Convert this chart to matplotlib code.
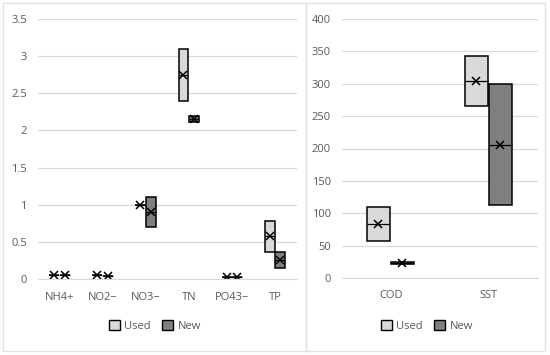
import matplotlib.pyplot as plt
from matplotlib.patches import Patch, Rectangle

plt.rcParams['font.family'] = ['Open Sans', 'DejaVu Sans']

# left panel: nutrients
nut_labels = ["NH4+", "NO2\u2212", "NO3\u2212", "TN", "PO43\u2212", "TP"]
nut_used_q1 = [0.05, 0.06, 1.00, 2.40, 0.03, 0.37]
nut_used_q3 = [0.05, 0.06, 1.00, 3.10, 0.03, 0.78]
nut_used_med = [0.05, 0.06, 1.00, 2.75, 0.03, 0.58]
nut_used_mean = [0.05, 0.06, 1.00, 2.75, 0.03, 0.58]
nut_new_q1 = [0.05, 0.04, 0.70, 2.12, 0.03, 0.15]
nut_new_q3 = [0.05, 0.04, 1.10, 2.19, 0.03, 0.36]
nut_new_med = [0.05, 0.04, 0.90, 2.15, 0.03, 0.25]
nut_new_mean = [0.05, 0.04, 0.90, 2.15, 0.03, 0.25]

# right panel: COD / SST
org_labels = ["COD", "SST"]
org_used_q1 = [57, 266]
org_used_q3 = [110, 343]
org_used_med = [84, 305]
org_used_mean = [84, 305]
org_new_q1 = [21, 113]
org_new_q3 = [25, 299]
org_new_med = [23, 206]
org_new_mean = [23, 206]

USED_C = "#d9d9d9"
NEW_C = "#7f7f7f"
GRID_C = "#d9d9d9"
TEXT_C = "#595959"


def make_stats(q1, q3, med, mean):
    return [
        dict(q1=a, q3=b, med=m, mean=mu, whislo=a, whishi=b, fliers=[])
        for a, b, m, mu in zip(q1, q3, med, mean)
    ]


def draw_boxes(ax, stats, positions, color):
    ax.bxp(
        stats,
        positions=positions,
        widths=0.23,
        patch_artist=True,
        showmeans=True,
        showcaps=False,
        showfliers=False,
        boxprops=dict(facecolor=color, edgecolor="black", linewidth=1.1),
        medianprops=dict(color="black", linewidth=0.9),
        whiskerprops=dict(linewidth=0),
        meanprops=dict(marker="x", markeredgecolor="black", markersize=6, markeredgewidth=1.1),
        manage_ticks=False,
    )


def style_axis(ax, labels, ymax, ystep):
    n = len(labels)
    ax.set_xlim(-0.5, n - 0.5)
    ax.set_ylim(0, ymax)
    ax.set_xticks(range(n))
    ax.set_xticklabels(labels)
    ticks = [i * ystep for i in range(int(round(ymax / ystep)) + 1)]
    ax.set_yticks(ticks)
    ax.set_yticklabels([f"{t:g}" for t in ticks])
    ax.grid(axis="y", color=GRID_C, linewidth=0.9)
    ax.set_axisbelow(True)
    for side in ["left", "right", "top"]:
        ax.spines[side].set_visible(False)
    ax.spines["bottom"].set_color(GRID_C)
    ax.tick_params(axis="both", length=0, colors=TEXT_C, labelsize=8)
    ax.tick_params(axis="x", pad=9)
    ax.tick_params(axis="y", pad=8)


fig = plt.figure(figsize=(5.5, 3.55), dpi=100)

# panel frames
fig.patches.append(Rectangle((3 / 550, 4 / 355), 303 / 550, 348 / 355, transform=fig.transFigure,
                             fill=False, edgecolor="#e2e2e2", linewidth=1.0))
fig.patches.append(Rectangle((306 / 550, 4 / 355), 239 / 550, 348 / 355, transform=fig.transFigure,
                             fill=False, edgecolor="#e2e2e2", linewidth=1.0))

ax1 = fig.add_axes([38 / 550, 1 - 279 / 355, 259 / 550, 260 / 355])
ax2 = fig.add_axes([342 / 550, 1 - 278 / 355, 196 / 550, 259 / 355])

x1 = list(range(len(nut_labels)))
draw_boxes(ax1, make_stats(nut_used_q1, nut_used_q3, nut_used_med, nut_used_mean),
           [x - 0.13 for x in x1], USED_C)
draw_boxes(ax1, make_stats(nut_new_q1, nut_new_q3, nut_new_med, nut_new_mean),
           [x + 0.115 for x in x1], NEW_C)
style_axis(ax1, nut_labels, 3.5, 0.5)

x2 = list(range(len(org_labels)))
draw_boxes(ax2, make_stats(org_used_q1, org_used_q3, org_used_med, org_used_mean),
           [x - 0.13 for x in x2], USED_C)
draw_boxes(ax2, make_stats(org_new_q1, org_new_q3, org_new_med, org_new_mean),
           [x + 0.115 for x in x2], NEW_C)
style_axis(ax2, org_labels, 400, 50)

handles = [Patch(facecolor=USED_C, edgecolor="black", label="Used"),
           Patch(facecolor=NEW_C, edgecolor="black", label="New")]
for cx in (155 / 550, 427 / 550):
    fig.legend(handles=handles, loc="center", bbox_to_anchor=(cx, 1 - 326 / 355), ncol=2,
               frameon=False, fontsize=8, labelcolor=TEXT_C, handlelength=1.0, handleheight=1.0,
               handletextpad=0.4, columnspacing=1.0)

fig.savefig("out.png", dpi=100)
